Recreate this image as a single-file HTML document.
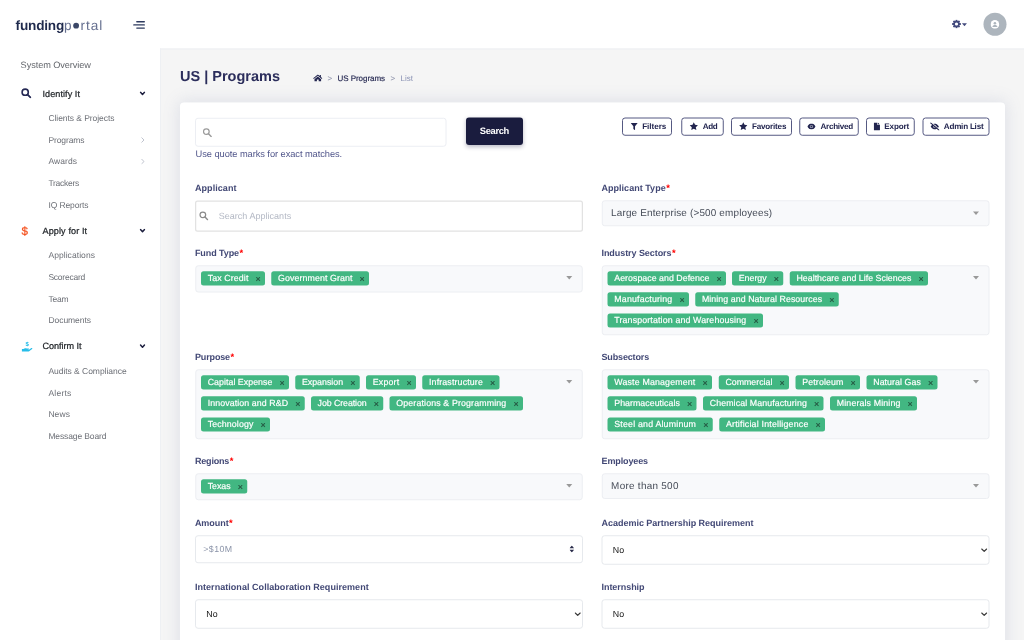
<!DOCTYPE html>
<html lang="en">
<head>
<meta charset="utf-8">
<title>US | Programs</title>
<style>
*{box-sizing:border-box;margin:0;padding:0}
html,body{width:1024px;height:640px;overflow:hidden}
#s{position:absolute;left:0;top:0;width:4096px;height:2560px;transform:scale(0.25);transform-origin:0 0}

body{text-rendering:geometricPrecision;font-family:"Liberation Sans",sans-serif;background:#fff;color:#2b2d5b;position:relative}
.abs{position:absolute}
#main{position:absolute;left:640px;top:194px;width:3456px;height:2368px;background:#f5f5f5;border-top:4px solid #eef0f3;border-left:4px solid #eef0f3}
#card{position:absolute;left:720px;top:410.4px;width:3300px;height:2240px;background:#fff;border-radius:16px;box-shadow:0 0 64px 8px rgba(110,120,165,.15)}
#logo{position:absolute;left:62.4px;top:64.8px;font-size:54.4px;line-height:72px;white-space:nowrap;color:#1f2a4d}
#logo b{font-weight:700;letter-spacing:-0.8px}
#logo i{font-style:normal;color:#667090;letter-spacing:3.8px}
#logo .o{display:inline-block;width:22.8px;height:22.8px;border-radius:50%;background:#3b4767;color:#3b4767;font-size:16px;line-height:22.8px;overflow:hidden;vertical-align:4.8px;margin:0 6px 0 2.8px;letter-spacing:0}
.t{position:absolute;white-space:nowrap}
.sub{font-size:34px;line-height:48px;color:#6c6f76}
.grp{font-size:36.4px;line-height:48px;color:#212529;-webkit-text-stroke:0.88px #212529}
.sys{font-size:36.8px;line-height:48px;color:#63666c}
h1{position:absolute;left:720px;top:263.2px;font-size:58px;line-height:80px;font-weight:700;color:#2b2d5b;white-space:nowrap}
.bc{font-size:32px;line-height:48px}
.lbl{font-size:36px;line-height:48px;font-weight:700;color:#424875}
.lbl s{text-decoration:none;color:#f00;letter-spacing:0;position:relative;top:1.2px;left:2px;font-size:37.6px;line-height:0}
.box{position:absolute;background:#f8f9fb;border:4px solid #eceef2;border-radius:12px}
.inp{position:absolute;background:#fff;border:4px solid #e6e9ed;border-radius:12px}
.tag{position:absolute;height:56.8px;background:#42b782;border-radius:10px;color:#fff;-webkit-text-stroke:0.72px #fff;font-size:35.2px;line-height:55.2px;white-space:nowrap;padding-left:26.8px}
.tag u{text-decoration:none;position:absolute;right:17.2px;top:0;color:#245540;-webkit-text-stroke:0.88px #245540;font-size:35.6px;line-height:61.6px;letter-spacing:0}
.caret{position:absolute;width:0;height:0;border-left:12.8px solid transparent;border-right:12.8px solid transparent;border-top:14.4px solid #999}
.seltxt{font-size:39.6px;line-height:56px;color:#454b57}
.no{font-size:35.2px;line-height:48px;color:#111}
.btn{position:absolute;top:469.6px;height:73.6px;border:4px solid #555982;border-radius:12px;background:#fff}
.btn svg{position:absolute}
.bt{font-size:32.4px;font-weight:700;line-height:48px;color:#22254f}
</style>
</head>
<body>
<div id="s">
<div id="main"></div>
<div id="card"></div>
<div id="logo"><b>funding</b><i>p<span class="o">o</span>rtal</i></div>
<svg class="abs" style="left:532px;top:80px" width="52" height="40" viewBox="0 0 13 10"><g stroke="#2d3a5e" stroke-width="1.35" stroke-linecap="round"><line x1="3.8" y1="1.7" x2="11.3" y2="1.7"/><line x1="0.8" y1="4.9" x2="11.3" y2="4.9"/><line x1="3.8" y1="8.1" x2="11.3" y2="8.1"/></g></svg>
<svg class="abs" style="left:3808px;top:78px" width="36" height="36" viewBox="-4.5 -4.5 9 9"><g fill="#434a7d"><rect x="-0.95" y="-4.35" width="1.9" height="2" rx=".3" transform="rotate(0)"/><rect x="-0.95" y="-4.35" width="1.9" height="2" rx=".3" transform="rotate(45)"/><rect x="-0.95" y="-4.35" width="1.9" height="2" rx=".3" transform="rotate(90)"/><rect x="-0.95" y="-4.35" width="1.9" height="2" rx=".3" transform="rotate(135)"/><rect x="-0.95" y="-4.35" width="1.9" height="2" rx=".3" transform="rotate(180)"/><rect x="-0.95" y="-4.35" width="1.9" height="2" rx=".3" transform="rotate(225)"/><rect x="-0.95" y="-4.35" width="1.9" height="2" rx=".3" transform="rotate(270)"/><rect x="-0.95" y="-4.35" width="1.9" height="2" rx=".3" transform="rotate(315)"/></g><circle r="2.45" fill="none" stroke="#434a7d" stroke-width="1.7"/></svg>
<svg class="abs" style="left:3847.2px;top:92px" width="21.6" height="13.6" viewBox="0 0 5.4 3.4"><path d="M0.2 0.3 H5.2 L2.7 3.2 Z" fill="#434a7d"/></svg>
<div class="abs" style="left:3934px;top:50.8px;width:92px;height:92px;border-radius:50%;background:#adb5bd"></div>
<svg class="abs" style="left:3962.4px;top:79.6px" width="35.2" height="35.2" viewBox="0 0 8.8 8.8"><circle cx="4.4" cy="4.4" r="4.3" fill="#fff"/><circle cx="4.4" cy="3.2" r="1.3" fill="#adb5bd"/><path d="M1.9 6.9 c.2-1.4 1.2-1.9 2.5-1.9 s2.300.5 2.500 1.900 z" fill="#adb5bd"/></svg>
<div id="t1" class="t sys" style="left:82.4px;top:235.2px;letter-spacing:-0.34px;">System Overview</div>
<svg class="abs" style="left:84.4px;top:352px" width="42" height="42" viewBox="0 0 10.5 10.5"><circle cx="4.2" cy="4.2" r="3.100" fill="none" stroke="#262a55" stroke-width="1.600"/><line x1="6.600" y1="6.600" x2="9.400" y2="9.400" stroke="#262a55" stroke-width="1.800" stroke-linecap="round"/></svg>
<div id="t2" class="t grp" style="left:170px;top:349.6px;letter-spacing:0.21px;">Identify It</div>
<svg class="abs" style="left:558px;top:364.8px" width="24" height="20" viewBox="0 0 6 5"><path d="M1 1 L3 3.2 L5 1" fill="none" stroke="#1d1f3f" stroke-width="1.5" stroke-linecap="round" stroke-linejoin="round"/></svg>
<div id="t3" class="t sub" style="left:193.6px;top:448.4px;letter-spacing:-0.24px;">Clients &amp; Projects</div>
<div id="t4" class="t sub" style="left:193.6px;top:536px;letter-spacing:-0.42px;">Programs</div>
<svg class="abs" style="left:564px;top:548px" width="16" height="24" viewBox="0 0 4 6"><path d="M0.8 0.8 L3 3 L0.8 5.2" fill="none" stroke="#b8bcc8" stroke-width="0.9" stroke-linecap="round" stroke-linejoin="round"/></svg>
<div id="t5" class="t sub" style="left:193.6px;top:622.4px;letter-spacing:0.41px;">Awards</div>
<svg class="abs" style="left:564px;top:634.4px" width="16" height="24" viewBox="0 0 4 6"><path d="M0.8 0.8 L3 3 L0.8 5.2" fill="none" stroke="#b8bcc8" stroke-width="0.9" stroke-linecap="round" stroke-linejoin="round"/></svg>
<div id="t6" class="t sub" style="left:193.6px;top:708.4px;letter-spacing:-1.07px;">Trackers</div>
<div id="t7" class="t sub" style="left:193.6px;top:794.8px;letter-spacing:-0.44px;">IQ Reports</div>
<div id="t8" class="t " style="left:85.6px;top:898px;font-size:46.4px;font-weight:400;-webkit-text-stroke:1px #f4511e;color:#f4511e;line-height:48px">$</div>
<div id="t9" class="t grp" style="left:170px;top:898.4px;letter-spacing:0.4px;">Apply for It</div>
<svg class="abs" style="left:558px;top:913.6px" width="24" height="20" viewBox="0 0 6 5"><path d="M1 1 L3 3.2 L5 1" fill="none" stroke="#1d1f3f" stroke-width="1.5" stroke-linecap="round" stroke-linejoin="round"/></svg>
<div id="t10" class="t sub" style="left:193.6px;top:997.2px;letter-spacing:0.26px;">Applications</div>
<div id="t11" class="t sub" style="left:193.6px;top:1084.8px;letter-spacing:-0.95px;">Scorecard</div>
<div id="t12" class="t sub" style="left:193.6px;top:1171.6px;letter-spacing:-0.68px;">Team</div>
<div id="t13" class="t sub" style="left:193.6px;top:1258.4px;letter-spacing:-0.17px;">Documents</div>
<svg class="abs" style="left:86.4px;top:1364.8px" width="45.6" height="45.6" viewBox="0 0 11 11"><path d="M0.3 7.4 h1.6 c1-.9 2.2-.9 3.2-.3 h1.6 c.5 0 .7.7.1.9 h-1.5 l1.9 .1 2.300-1.500 c.7-.4 1.300.4.700.9 l-2.800 2.100 c-.3.200-.6.300-1 .3 h-6.100 z" fill="#27bde9"/><text x="5.5" y="4.9" font-size="5.8" font-weight="700" text-anchor="middle" fill="#27bde9" font-family="Liberation Sans, sans-serif">$</text></svg>
<div id="t14" class="t grp" style="left:170px;top:1361.2px;letter-spacing:-0.13px;">Confirm It</div>
<svg class="abs" style="left:558px;top:1376.4px" width="24" height="20" viewBox="0 0 6 5"><path d="M1 1 L3 3.2 L5 1" fill="none" stroke="#1d1f3f" stroke-width="1.5" stroke-linecap="round" stroke-linejoin="round"/></svg>
<div id="t15" class="t sub" style="left:193.6px;top:1461.2px;letter-spacing:-0.15px;">Audits &amp; Compliance</div>
<div id="t16" class="t sub" style="left:193.6px;top:1547.2px;letter-spacing:0.98px;">Alerts</div>
<div id="t17" class="t sub" style="left:193.6px;top:1633.6px;letter-spacing:0.34px;">News</div>
<div id="t18" class="t sub" style="left:193.6px;top:1721.2px;letter-spacing:-0.5px;">Message Board</div>
<h1>US | Programs</h1>
<svg class="abs" style="left:1252px;top:296.8px" width="38.4" height="29.6" viewBox="0 0 9.6 7.4"><path d="M4.8 0.2 L0.2 4 L0.8 4.7 L4.8 1.5 L8.8 4.7 L9.4 4 L7.9 2.7 V0.8 H6.8 V1.8 Z" fill="#22254f"/><path d="M4.8 2.2 L1.5 4.9 V7.3 H3.9 V5.3 H5.7 V7.3 H8.1 V4.9 Z" fill="#22254f"/></svg>
<div id="t19" class="t bc" style="left:1310.4px;top:288px;color:#8a8fa8">&gt;</div>
<div id="t20" class="t bc" style="left:1350px;top:288px;letter-spacing:-0.19px;color:#22254f;-webkit-text-stroke:0.6px #22254f">US Programs</div>
<div id="t21" class="t bc" style="left:1561.6px;top:288px;color:#8a8fa8">&gt;</div>
<div id="t22" class="t bc" style="left:1602.4px;top:288px;letter-spacing:0.05px;color:#8a92b4">List</div>
<div class="inp" style="left:780px;top:470.8px;width:1006.4px;height:116px;border-color:#eceef3"></div>
<svg class="abs" style="left:810px;top:511.2px" width="37.6" height="37.6" viewBox="0 0 10 10"><circle cx="4.1" cy="4.1" r="3" fill="none" stroke="#9a9a9a" stroke-width="1.3"/><line x1="6.4" y1="6.4" x2="9.2" y2="9.2" stroke="#9a9a9a" stroke-width="1.5" stroke-linecap="round"/></svg>
<div class="abs" style="left:1864px;top:470.4px;width:228px;height:110px;background:#1a1c3e;border-radius:12px;box-shadow:0 6px 16px rgba(26,28,62,.3)"></div>
<div id="t23" class="t " style="left:1918.8px;top:498.8px;letter-spacing:-1.36px;color:#fff;font-weight:700;font-size:37.6px;line-height:48px">Search</div>
<div id="t24" class="t " style="left:782.4px;top:592px;letter-spacing:-0.27px;font-size:37.2px;line-height:48px;color:#50558a">Use quote marks for exact matches.</div>
<div class="btn" style="left:2488.4px;width:200px"><svg style="left:29.6px;top:17.2px" width="29.6" height="31.2" viewBox="0 0 7 7.4"><path d="M0.2 0.2 H6.8 L4.3 3.4 V7.2 L2.7 6 V3.4 Z" fill="#22254f"/></svg></div>
<div id="t25" class="t bt" style="left:2568.8px;top:482px;letter-spacing:-0.12px;">Filters</div>
<div class="btn" style="left:2725.2px;width:169.6px"><svg style="left:29.2px;top:14.8px" width="34.4" height="32.8" viewBox="0 0 24 23"><path d="M12 0.5 L15.5 8 L23.6 9 L17.6 14.6 L19.2 22.7 L12 18.7 L4.8 22.7 L6.4 14.6 L0.4 9 L8.5 8 Z" fill="#22254f"/></svg></div>
<div id="t26" class="t bt" style="left:2811.2px;top:482px;letter-spacing:-1.52px;">Add</div>
<div class="btn" style="left:2924.4px;width:243.6px"><svg style="left:27.6px;top:14.8px" width="34.4" height="32.8" viewBox="0 0 24 23"><path d="M12 0.5 L15.5 8 L23.6 9 L17.6 14.6 L19.2 22.7 L12 18.7 L4.8 22.7 L6.4 14.6 L0.4 9 L8.5 8 Z" fill="#22254f"/></svg></div>
<div id="t27" class="t bt" style="left:3008px;top:482px;letter-spacing:-0.8px;">Favorites</div>
<div class="btn" style="left:3196.8px;width:238px"><svg style="left:28.4px;top:20.8px" width="33.6" height="24" viewBox="0 0 8.4 6"><path d="M0.1 3 C1.5 0.5 3 0.1 4.2 0.1 S6.9 0.5 8.3 3 C6.9 5.5 5.4 5.9 4.2 5.9 S1.5 5.5 0.1 3 Z" fill="#22254f"/><circle cx="4.2" cy="3" r="1.55" fill="#fff" fill-opacity=".8"/><circle cx="4.2" cy="3" r="1.05" fill="#22254f"/></svg></div>
<div id="t28" class="t bt" style="left:3281.6px;top:482px;letter-spacing:-1.02px;">Archived</div>
<div class="btn" style="left:3464.4px;width:194.4px"><svg style="left:26.4px;top:16.8px" width="24.8" height="32" viewBox="0 0 6.2 8"><path d="M0.4 0 H3.6 V2.4 H6.2 V7.6 Q6.2 8 5.8 8 H0.4 Q0 8 0 7.6 V0.4 Q0 0 0.4 0 Z M4.2 0.1 L6.1 1.9 H4.2 Z" fill="#22254f"/></svg></div>
<div id="t29" class="t bt" style="left:3537.2px;top:482px;letter-spacing:-0.63px;">Export</div>
<div class="btn" style="left:3690px;width:268px"><svg style="left:25.6px;top:16.8px" width="38.4" height="32" viewBox="0 0 9.6 8"><path d="M0.7 4 C2 1.7 3.6 1.2 4.8 1.2 S7.6 1.700 8.900 4 C7.600 6.300 6 6.800 4.800 6.800 S2 6.300 0.700 4 Z" fill="#22254f"/><circle cx="4.8" cy="4" r="1.55" fill="#fff" fill-opacity=".85"/><circle cx="4.8" cy="4" r="1" fill="#22254f"/><line x1="1.3" y1="0.2" x2="9.3" y2="7.2" stroke="#fff" stroke-width="1.1"/><line x1="0.6" y1="0.4" x2="9" y2="7.6" stroke="#22254f" stroke-width="1.1" stroke-linecap="round"/></svg></div>
<div id="t30" class="t bt" style="left:3775.2px;top:482px;letter-spacing:-0.9px;">Admin List</div>
<div id="t31" class="t lbl" style="left:779.6px;top:727.6px;letter-spacing:0.31px;">Applicant</div>
<div id="t32" class="t lbl" style="left:2406px;top:727.6px;letter-spacing:0.1px;">Applicant Type<s>*</s></div>
<div id="t33" class="t lbl" style="left:779.6px;top:987.6px;letter-spacing:-0.32px;">Fund Type<s>*</s></div>
<div id="t34" class="t lbl" style="left:2406px;top:987.6px;letter-spacing:-0.26px;">Industry Sectors<s>*</s></div>
<div id="t35" class="t lbl" style="left:779.6px;top:1403.6px;letter-spacing:-0.52px;">Purpose<s>*</s></div>
<div id="t36" class="t lbl" style="left:2406px;top:1403.6px;letter-spacing:-0.61px;">Subsectors</div>
<div id="t37" class="t lbl" style="left:779.6px;top:1819.6px;letter-spacing:-0.69px;">Regions<s>*</s></div>
<div id="t38" class="t lbl" style="left:2406px;top:1819.6px;letter-spacing:-0.46px;">Employees</div>
<div id="t39" class="t lbl" style="left:779.6px;top:2067.6px;letter-spacing:-0.19px;">Amount<s>*</s></div>
<div id="t40" class="t lbl" style="left:2406px;top:2067.6px;letter-spacing:-0.08px;">Academic Partnership Requirement</div>
<div id="t41" class="t lbl" style="left:779.6px;top:2323.6px;letter-spacing:0.19px;">International Collaboration Requirement</div>
<div id="t42" class="t lbl" style="left:2406px;top:2323.6px;letter-spacing:-0.2px;">Internship</div>
<div class="inp" style="left:780px;top:801.6px;width:1552px;height:125.2px;border:5.2px solid #e2e2e2;border-radius:10px"></div>
<svg class="abs" style="left:796px;top:844px" width="37.6" height="37.6" viewBox="0 0 10 10"><circle cx="4.1" cy="4.1" r="3" fill="none" stroke="#8a8a8a" stroke-width="1.3"/><line x1="6.4" y1="6.4" x2="9.2" y2="9.2" stroke="#8a8a8a" stroke-width="1.5" stroke-linecap="round"/></svg>
<div id="t43" class="t " style="left:874.8px;top:838.4px;letter-spacing:0.11px;font-size:36px;line-height:48px;color:#b3b8c4">Search Applicants</div>
<div class="box" style="left:2407.2px;top:801.2px;width:1550.4px;height:103.6px"></div>
<div id="t44" class="t seltxt" style="left:2444.4px;top:822.4px;letter-spacing:0.7px;">Large Enterprise (&gt;500 employees)</div>
<div class="caret" style="left:3891.6px;top:846.4px"></div>
<div class="box" style="left:780.8px;top:1060.8px;width:1550.4px;height:109.2px"></div>
<div id="t45" class="tag" style="left:804px;top:1084.8px;width:256.4px;letter-spacing:0.48px;">Tax Credit<u>×</u></div>
<div id="t46" class="tag" style="left:1085.2px;top:1084.8px;width:391.2px;letter-spacing:0.41px;">Government Grant<u>×</u></div>
<div class="caret" style="left:2264.8px;top:1103.6px"></div>
<div class="box" style="left:2407.2px;top:1060.8px;width:1550.4px;height:280px"></div>
<div id="t47" class="tag" style="left:2430.4px;top:1084.8px;width:473.2px;letter-spacing:0.12px;">Aerospace and Defence<u>×</u></div>
<div id="t48" class="tag" style="left:2928px;top:1084.8px;width:205.2px;letter-spacing:0.08px;">Energy<u>×</u></div>
<div id="t49" class="tag" style="left:3159.2px;top:1084.8px;width:552.8px;letter-spacing:0.07px;">Healthcare and Life Sciences<u>×</u></div>
<div id="t50" class="tag" style="left:2430.4px;top:1169.2px;width:325.6px;letter-spacing:0.72px;">Manufacturing<u>×</u></div>
<div id="t51" class="tag" style="left:2780.8px;top:1169.2px;width:574.4px;letter-spacing:0.28px;">Mining and Natural Resources<u>×</u></div>
<div id="t52" class="tag" style="left:2430.4px;top:1253.6px;width:621.2px;letter-spacing:0.6px;">Transportation and Warehousing<u>×</u></div>
<div class="caret" style="left:3891.6px;top:1103.6px"></div>
<div class="box" style="left:780.8px;top:1476.8px;width:1550.4px;height:280px"></div>
<div id="t53" class="tag" style="left:804px;top:1500.8px;width:352px;letter-spacing:0.17px;">Capital Expense<u>×</u></div>
<div id="t54" class="tag" style="left:1180.8px;top:1500.8px;width:258px;letter-spacing:0.05px;">Expansion<u>×</u></div>
<div id="t55" class="tag" style="left:1464.4px;top:1500.8px;width:199.2px;letter-spacing:0.72px;">Export<u>×</u></div>
<div id="t56" class="tag" style="left:1689.2px;top:1500.8px;width:309.2px;letter-spacing:0.62px;">Infrastructure<u>×</u></div>
<div id="t57" class="tag" style="left:804px;top:1585.2px;width:414.8px;letter-spacing:0.37px;">Innovation and R&amp;D<u>×</u></div>
<div id="t58" class="tag" style="left:1243.6px;top:1585.2px;width:289.2px;letter-spacing:-0.29px;">Job Creation<u>×</u></div>
<div id="t59" class="tag" style="left:1558.4px;top:1585.2px;width:533.2px;letter-spacing:0.57px;">Operations &amp; Programming<u>×</u></div>
<div id="t60" class="tag" style="left:804px;top:1669.6px;width:276.4px;letter-spacing:0.52px;">Technology<u>×</u></div>
<div class="caret" style="left:2264.8px;top:1519.6px"></div>
<div class="box" style="left:2407.2px;top:1476.8px;width:1550.4px;height:280px"></div>
<div id="t61" class="tag" style="left:2430.4px;top:1500.8px;width:418px;letter-spacing:0.7px;">Waste Management<u>×</u></div>
<div id="t62" class="tag" style="left:2874.8px;top:1500.8px;width:281.2px;letter-spacing:0.03px;">Commercial<u>×</u></div>
<div id="t63" class="tag" style="left:3182.4px;top:1500.8px;width:258px;letter-spacing:0.49px;">Petroleum<u>×</u></div>
<div id="t64" class="tag" style="left:3466px;top:1500.8px;width:284.4px;letter-spacing:0.31px;">Natural Gas<u>×</u></div>
<div id="t65" class="tag" style="left:2430.4px;top:1585.2px;width:355.2px;letter-spacing:0.13px;">Pharmaceuticals<u>×</u></div>
<div id="t66" class="tag" style="left:2812px;top:1585.2px;width:482px;letter-spacing:0.43px;">Chemical Manufacturing<u>×</u></div>
<div id="t67" class="tag" style="left:3320.4px;top:1585.2px;width:348px;letter-spacing:0.56px;">Minerals Mining<u>×</u></div>
<div id="t68" class="tag" style="left:2430.4px;top:1669.6px;width:420.4px;letter-spacing:0.79px;">Steel and Aluminum<u>×</u></div>
<div id="t69" class="tag" style="left:2877.2px;top:1669.6px;width:423.2px;letter-spacing:0.83px;">Artificial Intelligence<u>×</u></div>
<div class="caret" style="left:3891.6px;top:1519.6px"></div>
<div class="box" style="left:780.8px;top:1892.8px;width:1550.4px;height:108.4px"></div>
<div id="t70" class="tag" style="left:804px;top:1916.8px;width:184.8px;letter-spacing:-0.06px;">Texas<u>×</u></div>
<div class="caret" style="left:2264.8px;top:1935.6px"></div>
<div class="box" style="left:2407.2px;top:1892.8px;width:1550.4px;height:102.8px"></div>
<div id="t71" class="t seltxt" style="left:2444.4px;top:1915.6px;letter-spacing:1.17px;">More than 500</div>
<div class="caret" style="left:3891.6px;top:1936.4px"></div>
<div class="inp" style="left:780px;top:2141.2px;width:1552px;height:111.6px"></div>
<div id="t72" class="t " style="left:812.8px;top:2172.8px;letter-spacing:1.8px;font-size:35.2px;line-height:48px;color:#8a93a8">&gt;$10M</div>
<svg class="abs" style="left:2278.4px;top:2181.6px" width="18.4" height="28" viewBox="0 0 4.6 7"><path d="M2.3 0 L4.6 2.8 H0 Z M2.3 7 L4.6 4.2 H0 Z" fill="#2b2d4b"/></svg>
<div class="inp" style="left:2406.4px;top:2141.2px;width:1552px;height:118px"></div>
<div id="t73" class="t no" style="left:2451.2px;top:2175.6px;letter-spacing:0.52px;">No</div>
<svg class="abs" style="left:3924.4px;top:2193.2px" width="25.6" height="16.8" viewBox="0 0 6 4"><path d="M0.7 0.7 L3 3 L5.3 0.7" fill="none" stroke="#3a3a3a" stroke-width="1.15" stroke-linecap="round" stroke-linejoin="round"/></svg>
<div class="inp" style="left:780px;top:2397.2px;width:1552px;height:118px"></div>
<div id="t74" class="t no" style="left:825.2px;top:2431.6px;letter-spacing:0.52px;">No</div>
<svg class="abs" style="left:2298px;top:2449.2px" width="25.6" height="16.8" viewBox="0 0 6 4"><path d="M0.7 0.7 L3 3 L5.3 0.7" fill="none" stroke="#3a3a3a" stroke-width="1.15" stroke-linecap="round" stroke-linejoin="round"/></svg>
<div class="inp" style="left:2406.4px;top:2397.2px;width:1552px;height:118px"></div>
<div id="t75" class="t no" style="left:2451.2px;top:2431.6px;letter-spacing:0.52px;">No</div>
<svg class="abs" style="left:3924.4px;top:2449.2px" width="25.6" height="16.8" viewBox="0 0 6 4"><path d="M0.7 0.7 L3 3 L5.3 0.7" fill="none" stroke="#3a3a3a" stroke-width="1.15" stroke-linecap="round" stroke-linejoin="round"/></svg>
</div>
</body>
</html>
